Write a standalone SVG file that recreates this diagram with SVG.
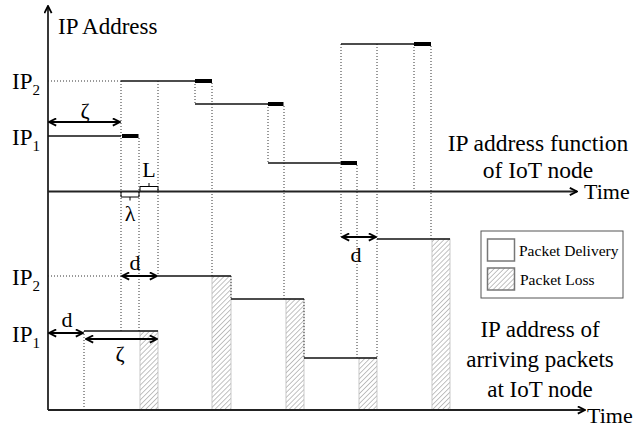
<svg xmlns="http://www.w3.org/2000/svg" width="635" height="430" viewBox="0 0 635 430">
<style>
.ax{stroke:#222;stroke-width:1.8;fill:none}
.lv{stroke:#111;stroke-width:1.5;fill:none}
.bar{fill:#000}
.dot{stroke:#333;stroke-width:1;stroke-dasharray:1 2;fill:none}
.arr{stroke:#000;stroke-width:2;fill:none;marker-start:url(#ch);marker-end:url(#ch)}
.br{stroke:#000;stroke-width:1;fill:none}
.hat{fill:url(#hatch);stroke:#bbb;stroke-width:0.8}
.lbl{font-size:22px}
.sub{font-size:15px}
</style>
<defs>
<marker id="ch" viewBox="0 0 10 10" refX="9" refY="5" markerWidth="9" markerHeight="9" markerUnits="userSpaceOnUse" orient="auto-start-reverse">
<path d="M1,1 L9,5 L1,9" fill="none" stroke="#000" stroke-width="2"/>
</marker>
<marker id="ax" viewBox="0 0 10 10" refX="9" refY="5" markerWidth="9" markerHeight="9" markerUnits="userSpaceOnUse" orient="auto">
<path d="M1,1 L9,5 L1,9" fill="none" stroke="#000" stroke-width="2"/>
</marker>
<pattern id="hatch" width="3.5" height="3.5" patternUnits="userSpaceOnUse" patternTransform="rotate(45)">
<rect width="3.5" height="3.5" fill="#fff"/>
<line x1="0" y1="0" x2="0" y2="3.5" stroke="#999" stroke-width="1.2"/>
</pattern>
</defs>

<g id="hatched-losses">
<rect class="hat" x="140" y="331" width="18" height="79"/>
<rect class="hat" x="212" y="276" width="19" height="134"/>
<rect class="hat" x="286" y="299" width="18" height="111"/>
<rect class="hat" x="359" y="358" width="18" height="52"/>
<rect class="hat" x="432" y="239" width="18" height="171"/>
</g>

<g id="guides">
<line class="dot" x1="48" y1="81" x2="121" y2="81"/>
<line class="dot" x1="48" y1="276" x2="121" y2="276"/>
<line class="dot" x1="121" y1="81" x2="121" y2="331"/>
<line class="dot" x1="139" y1="138" x2="139" y2="331"/>
<line class="dot" x1="158" y1="81" x2="158" y2="276"/>
<line class="dot" x1="195" y1="81" x2="195" y2="104"/>
<line class="dot" x1="212" y1="83" x2="212" y2="276"/>
<line class="dot" x1="268" y1="104" x2="268" y2="163"/>
<line class="dot" x1="284" y1="106" x2="284" y2="299"/>
<line class="dot" x1="341" y1="44" x2="341" y2="237"/>
<line class="dot" x1="357" y1="165" x2="357" y2="358"/>
<line class="dot" x1="377" y1="44" x2="377" y2="358"/>
<line class="dot" x1="414" y1="44" x2="414" y2="192"/>
<line class="dot" x1="431" y1="46" x2="431" y2="239"/>
<line class="dot" x1="84" y1="331" x2="84" y2="410"/>
<line class="dot" x1="231" y1="276" x2="231" y2="299"/>
<line class="dot" x1="304" y1="299" x2="304" y2="358"/>
</g>

<g id="axes">
<line class="ax" x1="48" y1="410" x2="48" y2="6" marker-end="url(#ax)"/>
<line class="ax" x1="48" y1="191.5" x2="577" y2="191.5" marker-end="url(#ax)"/>
<line class="ax" x1="48" y1="410" x2="585" y2="410" marker-end="url(#ax)"/>
</g>

<g id="ip-function">
<line class="lv" x1="48" y1="136" x2="121" y2="136"/>
<line class="lv" x1="121" y1="81" x2="195" y2="81"/>
<line class="lv" x1="195" y1="104" x2="268" y2="104"/>
<line class="lv" x1="268" y1="163" x2="341" y2="163"/>
<line class="lv" x1="341" y1="44" x2="414" y2="44"/>
<rect class="bar" x="122" y="134" width="16.5" height="4"/>
<rect class="bar" x="195" y="79" width="17" height="4"/>
<rect class="bar" x="268" y="102" width="15.5" height="4"/>
<rect class="bar" x="341" y="161" width="16" height="4"/>
<rect class="bar" x="414" y="42" width="17" height="4"/>
</g>

<g id="arriving-packets">
<line class="lv" x1="84" y1="331" x2="158" y2="331"/>
<line class="lv" x1="158" y1="276" x2="231" y2="276"/>
<line class="lv" x1="231" y1="299" x2="304" y2="299"/>
<line class="lv" x1="304" y1="358" x2="377" y2="358"/>
<line class="lv" x1="377" y1="239" x2="450" y2="239"/>
</g>

<g id="annotations" font-family="'Liberation Serif', 'DejaVu Serif', serif" fill="#000">
<line class="arr" x1="49" y1="122" x2="120" y2="122"/>
<text class="lbl" x="85" y="118" text-anchor="middle">ζ</text>
<path class="br" d="M140,191 V186.5 H158 V191 M149,186.5 V183"/>
<text class="lbl" x="149" y="177" text-anchor="middle">L</text>
<path class="br" d="M121,192 V197 H139 V192 M130,197 V200.5"/>
<text class="lbl" x="130" y="221" text-anchor="middle">λ</text>
<line class="arr" x1="122" y1="276" x2="157" y2="276"/>
<text class="lbl" x="135" y="270" text-anchor="middle">d</text>
<line class="arr" x1="49" y1="333" x2="83" y2="333"/>
<text class="lbl" x="67" y="327" text-anchor="middle">d</text>
<line class="arr" x1="86" y1="339" x2="157" y2="339"/>
<text class="lbl" x="120" y="361" text-anchor="middle">ζ</text>
<line class="arr" x1="342" y1="237" x2="376" y2="237"/>
<text class="lbl" x="356" y="262" text-anchor="middle">d</text>
</g>

<g id="axis-labels" font-family="'Liberation Serif', 'DejaVu Serif', serif" fill="#000">
<text font-size="23" x="58" y="34">IP Address</text>
<text font-size="23" x="12" y="89">IP<tspan class="sub" dy="6">2</tspan></text>
<text font-size="23" x="12" y="145">IP<tspan class="sub" dy="6">1</tspan></text>
<text font-size="23" x="12" y="285">IP<tspan class="sub" dy="6">2</tspan></text>
<text font-size="23" x="12" y="342">IP<tspan class="sub" dy="6">1</tspan></text>
<text font-size="22" x="584" y="199">Time</text>
<text font-size="22" x="587" y="423">Time</text>
<text font-size="23.5" x="538" y="151" text-anchor="middle">IP address function</text>
<text font-size="23.5" x="538" y="178" text-anchor="middle">of IoT node</text>
<text font-size="23" x="540" y="337" text-anchor="middle">IP address of</text>
<text font-size="23" x="540" y="367" text-anchor="middle">arriving packets</text>
<text font-size="23" x="540" y="397" text-anchor="middle">at IoT node</text>
</g>

<g id="legend" font-family="'Liberation Serif', 'DejaVu Serif', serif" fill="#000">
<rect x="481" y="231" width="142" height="67" fill="#fff" stroke="#555" stroke-width="1"/>
<rect x="487.5" y="239" width="27" height="22" fill="#fff" stroke="#777" stroke-width="1.5"/>
<text x="519" y="256" font-size="15.5">Packet Delivery</text>
<rect x="487.5" y="268" width="27" height="22" fill="url(#hatch)" stroke="#777" stroke-width="1.5"/>
<text x="520" y="285" font-size="15.5">Packet Loss</text>
</g>
</svg>
